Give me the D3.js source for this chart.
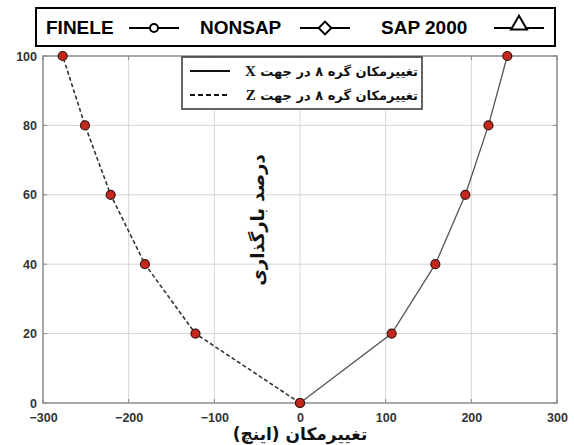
<!DOCTYPE html>
<html><head><meta charset="utf-8">
<script src="https://cdn.jsdelivr.net/npm/d3@7"></script>
<style>body{margin:0;background:#fff}svg{display:block}</style>
</head><body>
<svg id="c" width="574" height="445"></svg>
<script>
const loadPct = [0, 20, 40, 60, 80, 100];
const dispX = [0, 107, 158, 193, 220, 242];
const dispZ = [0, -122, -181, -221, -251, -277];
const xTicks = [-300, -200, -100, 0, 100, 200, 300];
const yTicks = [0, 20, 40, 60, 80, 100];
const topLegend = ["FINELE", "NONSAP", "SAP 2000"];
const topSymbols = ["circle", "diamond", "triangle"];
const innerLegend = ["تغییرمکان گره ۸ در جهت", "تغییرمکان گره ۸ در جهت"];
const innerLegendAxis = ["X", "Z"];
const xTitle = "تغییرمکان (اینچ)";
const yTitle = "درصد بارگذاری";

const svg = d3.select("#c");
const L = 43, R = 557, T = 56, B = 403;
const x = d3.scaleLinear().domain([-300, 300]).range([L, R]);
const y = d3.scaleLinear().domain([0, 100]).range([B, T]);

// grid
const grid = svg.append("g");
grid.selectAll("line.vx").data(xTicks.slice(1, -1)).join("line")
  .attr("x1", d => x(d)).attr("x2", d => x(d)).attr("y1", T).attr("y2", B)
  .attr("stroke", "#d6d6d6").attr("stroke-width", 1);
grid.selectAll("line.hy").data(yTicks.slice(1, -1)).join("line")
  .attr("y1", d => y(d)).attr("y2", d => y(d)).attr("x1", L).attr("x2", R)
  .attr("stroke", "#d6d6d6").attr("stroke-width", 1);

// axes
const font = "'Liberation Sans', Arial, sans-serif";
const xAx = svg.append("g").attr("transform", `translate(0,${B})`)
  .call(d3.axisBottom(x).tickValues(xTicks).tickSize(0).tickPadding(10));
const yAx = svg.append("g").attr("transform", `translate(${L},0)`)
  .call(d3.axisLeft(y).tickValues(yTicks).tickSize(0).tickPadding(6));
[xAx, yAx].forEach(a => {
  a.select(".domain").remove();
  a.selectAll("text").attr("font-family", font).attr("font-size", 12.5)
    .attr("font-weight", "bold").attr("fill", "#333");
});
// inner ticks
const tk = svg.append("g").attr("stroke", "#888");
tk.selectAll("l1").data(yTicks).join("line").attr("x1", L).attr("x2", L + 4)
  .attr("y1", d => y(d)).attr("y2", d => y(d));
tk.selectAll("l2").data(yTicks).join("line").attr("x1", R).attr("x2", R - 4)
  .attr("y1", d => y(d)).attr("y2", d => y(d));
tk.selectAll("l3").data(xTicks).join("line").attr("y1", B).attr("y2", B - 4)
  .attr("x1", d => x(d)).attr("x2", d => x(d));
tk.selectAll("l4").data(xTicks).join("line").attr("y1", T).attr("y2", T + 4)
  .attr("x1", d => x(d)).attr("x2", d => x(d));
svg.append("rect").attr("x", L).attr("y", T).attr("width", R - L).attr("height", B - T)
  .attr("fill", "none").attr("stroke", "#8a8a8a").attr("stroke-width", 1.5);

// lines
const lineX = d3.line().x((d, i) => x(dispX[i])).y(d => y(d));
const lineZ = d3.line().x((d, i) => x(dispZ[i])).y(d => y(d));
svg.append("path").attr("d", lineX(loadPct)).attr("fill", "none")
  .attr("stroke", "#555").attr("stroke-width", 1.3);
svg.append("path").attr("d", lineZ(loadPct)).attr("fill", "none")
  .attr("stroke", "#333").attr("stroke-width", 1.6).attr("stroke-dasharray", "4,2.5");

// markers
const pts = loadPct.map((p, i) => [dispX[i], p]).concat(loadPct.map((p, i) => [dispZ[i], p]));
svg.selectAll("circle.m").data(pts).join("circle")
  .attr("cx", d => x(d[0])).attr("cy", d => y(d[1])).attr("r", 4.5)
  .attr("fill", "#c4281c").attr("stroke", "#3a1410").attr("stroke-width", 1.2);

// top legend
svg.append("rect").attr("x", 36).attr("y", 8).attr("width", 519).attr("height", 38)
  .attr("fill", "#fff").attr("stroke", "#000").attr("stroke-width", 2);
const legTextX = [46, 200, 381];
const legSymX = [154, 325, 519];
topLegend.forEach((t, i) => {
  svg.append("text").attr("x", legTextX[i]).attr("y", 34).text(t)
    .attr("font-family", font).attr("font-weight", "bold").attr("font-size", 19).attr("fill", "#000");
  const cx = legSymX[i];
  svg.append("line").attr("x1", cx - 25).attr("x2", cx + 25).attr("y1", 28).attr("y2", 28)
    .attr("stroke", "#000").attr("stroke-width", 2);
  const sym = topSymbols[i] === "circle" ? d3.symbolCircle : topSymbols[i] === "diamond" ? d3.symbolSquare : d3.symbolTriangle;
  const size = topSymbols[i] === "circle" ? 50 : topSymbols[i] === "diamond" ? 80 : 110;
  svg.append("path").attr("d", d3.symbol(sym, size)())
    .attr("transform", `translate(${cx},${topSymbols[i] === "triangle" ? 25 : 28})` + (topSymbols[i] === "diamond" ? " rotate(45)" : ""))
    .attr("fill", "#fff").attr("stroke", "#000").attr("stroke-width", 2);
});

// inner legend
svg.append("rect").attr("x", 182).attr("y", 57).attr("width", 240).attr("height", 52)
  .attr("fill", "#fff").attr("stroke", "#333").attr("stroke-width", 1.5);
innerLegend.forEach((t, i) => {
  const yy = 71 + i * 24;
  svg.append("line").attr("x1", 190).attr("x2", 230).attr("y1", yy).attr("y2", yy)
    .attr("stroke", "#111").attr("stroke-width", 1.8)
    .attr("stroke-dasharray", i === 1 ? "5,3" : null);
  const tx = svg.append("text").attr("x", 418).attr("y", yy + 5).attr("text-anchor", "end")
    .attr("fill", "#111");
  tx.append("tspan").text(innerLegendAxis[i]).attr("font-family", "'Liberation Serif', serif")
    .attr("font-weight", "bold").attr("font-size", 15);
  tx.append("tspan").text(" " + t).attr("font-family", "'DejaVu Sans', 'Noto Sans', sans-serif")
    .attr("font-weight", "bold").attr("font-size", 13);
});

// titles
svg.append("text").attr("x", 300).attr("y", 440).attr("text-anchor", "middle")
  .style("direction", "rtl").style("unicode-bidi", "embed")
  .attr("font-family", "'DejaVu Sans', sans-serif").attr("font-weight", "bold").attr("font-size", 17)
  .attr("fill", "#111").text(xTitle);
svg.append("text").attr("transform", "translate(264,220) rotate(-90)").attr("text-anchor", "middle")
  .style("direction", "rtl").style("unicode-bidi", "embed")
  .attr("font-family", "'DejaVu Sans', sans-serif").attr("font-weight", "bold").attr("font-size", 18)
  .attr("fill", "#111").text(yTitle);
</script>
</body></html>
